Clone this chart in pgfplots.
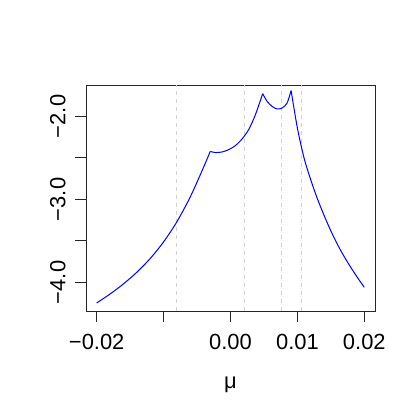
\documentclass[border=0pt]{standalone}
\usepackage{fontspec}
\setmainfont{Liberation Sans}
\usepackage{pgfplots}
\pgfplotsset{compat=1.18}

\begin{document}
\begin{tikzpicture}[font=\fontsize{22}{26}\selectfont]
% fix the page to the 419 x 419 frame of the reference
\path[use as bounding box] (-86bp,-108bp) rectangle (333bp,311bp);
\begin{axis}[
  at={(0,0)}, anchor=south west,
  scale only axis, width=289bp, height=226bp,
  xmin=-0.0216, xmax=0.0216,
  ymin=-4.345, ymax=-1.622,
  axis line style={line width=0.9bp, black!85},
  tick style={line width=0.9bp, black!85},
  tick align=outside, major tick length=11bp,
  xtick pos=bottom, ytick pos=left,
  scaled x ticks=false, scaled y ticks=false,
  xtick={-0.02,-0.01,0,0.01,0.02},
  xticklabels={{−0.02},{},{0.00},{0.01},{0.02}},
  ytick={-4,-3.5,-3,-2.5,-2},
  yticklabels={{−4.0},{},{−3.0},{},{−2.0}},
  yticklabel style={rotate=90, anchor=south},
  xticklabel shift=9bp, yticklabel shift=6bp,
  xlabel={μ},
  xlabel style={yshift=-20bp},
  clip=true,
]
% dashed reference lines
\addplot[gray!35, line width=0.9bp, dash pattern=on 4bp off 4bp] coordinates {(-0.00812,-4.345) (-0.00812,-1.622)};
\addplot[gray!35, line width=0.9bp, dash pattern=on 4bp off 4bp] coordinates {(0.00211,-4.345) (0.00211,-1.622)};
\addplot[gray!35, line width=0.9bp, dash pattern=on 4bp off 4bp] coordinates {(0.00761,-4.345) (0.00761,-1.622)};
\addplot[gray!35, line width=0.9bp, dash pattern=on 4bp off 4bp] coordinates {(0.01056,-4.345) (0.01056,-1.622)};
% curve, one smooth piece between kinks
\addplot[blue, line width=1bp, smooth] coordinates {
  (-0.02,-4.248) (-0.018,-4.140) (-0.016,-4.018) (-0.014,-3.878)
  (-0.012,-3.712) (-0.010,-3.512) (-0.008,-3.268) (-0.006,-2.968)
  (-0.004,-2.608) (-0.00303,-2.422)
};
\addplot[blue, line width=1bp, smooth] coordinates {
  (-0.00303,-2.422) (-0.00228,-2.436) (-0.00127,-2.429) (-0.00028,-2.401)
  (0.00072,-2.353) (0.00172,-2.273) (0.00271,-2.160) (0.00372,-1.980)
  (0.00481,-1.727)
};
\addplot[blue, line width=1bp, smooth] coordinates {
  (0.00481,-1.727) (0.00547,-1.819) (0.00622,-1.880) (0.00697,-1.911)
  (0.00772,-1.899) (0.00846,-1.839) (0.00906,-1.690)
};
\addplot[blue, line width=1bp, smooth] coordinates {
  (0.00906,-1.690) (0.010,-2.141) (0.011,-2.503) (0.012,-2.765)
  (0.013,-2.995) (0.014,-3.195) (0.015,-3.38) (0.016,-3.545)
  (0.017,-3.69) (0.018,-3.822) (0.019,-3.945) (0.020,-4.06)
};
\end{axis}
\end{tikzpicture}
\end{document}
